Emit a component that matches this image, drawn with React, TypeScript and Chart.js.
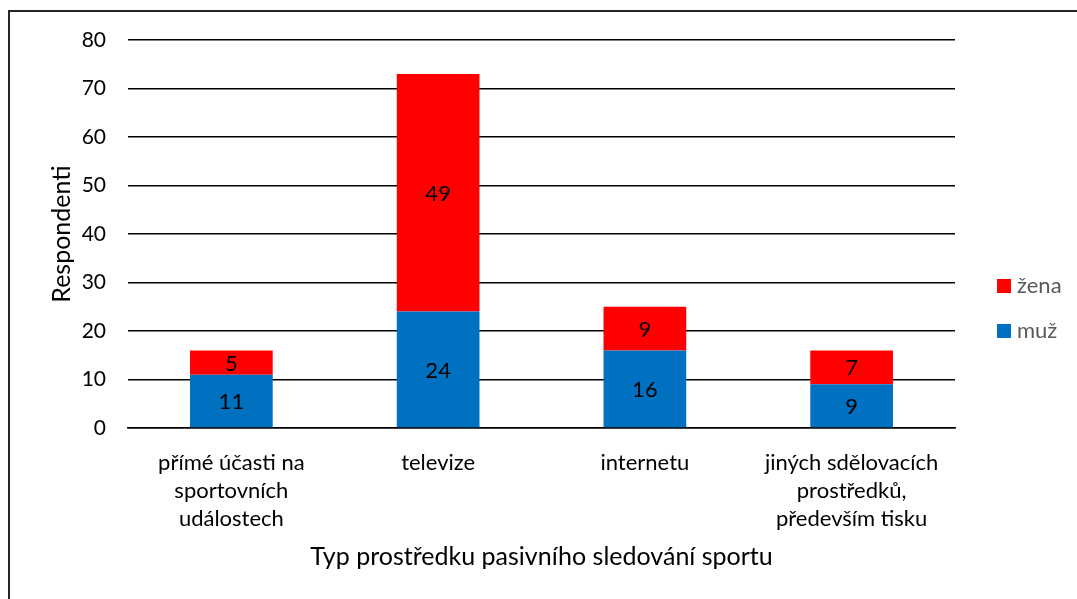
import React, { useEffect, useRef } from "react";
import { Chart, registerables } from "chart.js";

Chart.register(...registerables);

const categories: (string | string[])[] = [
  ["přímé účasti na", "sportovních", "událostech"],
  "televize",
  "internetu",
  ["jiných sdělovacích", "prostředků,", "především tisku"],
];
const muzValues = [11, 24, 16, 9];
const zenaValues = [5, 49, 9, 7];
const seriesNames = ["muž", "žena"];
const yMin = 0;
const yMax = 80;
const yStep = 10;
const xTitle = "Typ prostředku pasivního sledování sportu";
const yTitle = "Respondenti";

const BLUE = "#0070C0";
const RED = "#FF0000";
const FONT = "Lato, 'Open Sans', sans-serif";

const valueLabelPlugin = {
  id: "valueLabels",
  afterDatasetsDraw(chart: any) {
    const ctx = chart.ctx;
    ctx.save();
    ctx.font = `22px ${FONT}`;
    ctx.fillStyle = "#000";
    ctx.textAlign = "center";
    ctx.textBaseline = "middle";
    chart.data.datasets.forEach((ds: any, di: number) => {
      const meta = chart.getDatasetMeta(di);
      meta.data.forEach((el: any, i: number) => {
        const p = el.getProps(["x", "y", "base"], true);
        ctx.fillText(String(ds.data[i]), p.x, (p.y + p.base) / 2 + 1);
      });
    });
    ctx.restore();
  },
};

const legendPlugin = {
  id: "sideLegend",
  afterDraw(chart: any) {
    const ctx = chart.ctx;
    const area = chart.chartArea;
    const items = chart.data.datasets
      .map((ds: any) => ({ label: ds.label, color: ds.backgroundColor }))
      .reverse();
    ctx.save();
    ctx.font = `22px ${FONT}`;
    ctx.textAlign = "left";
    ctx.textBaseline = "middle";
    const x = area.right + 42;
    const y0 = 286;
    items.forEach((it: any, i: number) => {
      const y = y0 + i * 45;
      ctx.fillStyle = it.color;
      ctx.fillRect(x, y - 7, 14, 14);
      ctx.fillStyle = "#595959";
      ctx.fillText(it.label, x + 20, y);
    });
    ctx.restore();
  },
};

export default function App() {
  const ref = useRef<HTMLCanvasElement | null>(null);

  useEffect(() => {
    if (!ref.current) return;
    const chart = new Chart(ref.current, {
      type: "bar",
      data: {
        labels: categories,
        datasets: [
          {
            label: seriesNames[0],
            data: muzValues,
            backgroundColor: BLUE,
            barPercentage: 0.4,
            categoryPercentage: 1,
          },
          {
            label: seriesNames[1],
            data: zenaValues,
            backgroundColor: RED,
            barPercentage: 0.4,
            categoryPercentage: 1,
          },
        ],
      },
      options: {
        responsive: false,
        animation: false,
        layout: { padding: { left: 47, right: 122, top: 40, bottom: 27 } },
        plugins: {
          legend: { display: false },
          tooltip: { enabled: false },
        },
        scales: {
          x: {
            stacked: true,
            afterFit: (scale: any) => {
              scale.height = 144;
            },
            grid: { display: false, drawTicks: false },
            border: { display: true, color: "#000", width: 1.5 },
            ticks: {
              color: "#000",
              font: { family: FONT, size: 22, lineHeight: 1.27 },
              padding: 21,
              maxRotation: 0,
              autoSkip: false,
            },
            title: {
              display: true,
              text: xTitle,
              color: "#000",
              font: { family: FONT, size: 25, lineHeight: 1.2 },
              padding: { top: 0, bottom: 0 },
            },
          },
          y: {
            stacked: true,
            min: yMin,
            max: yMax,
            afterFit: (scale: any) => {
              scale.width = 81;
            },
            grid: { color: "#000", lineWidth: 1.5, drawTicks: false },
            border: { display: false },
            ticks: {
              stepSize: yStep,
              color: "#000",
              font: { family: FONT, size: 21 },
              padding: 22,
            },
            title: {
              display: true,
              text: yTitle,
              color: "#000",
              font: { family: FONT, size: 25, lineHeight: 1.2 },
              padding: { top: 0, bottom: 0 },
            },
          },
        },
      },
      plugins: [valueLabelPlugin, legendPlugin],
    });
    return () => chart.destroy();
  }, []);

  return (
    <div style={{ position: "fixed", left: 0, top: 0, width: 1077, height: 599, background: "#fff", overflow: "hidden" }}>
      <div
        style={{
          position: "absolute",
          left: 8,
          top: 10,
          width: 1200,
          height: 700,
          borderLeft: "2px solid #262626",
          borderTop: "2px solid #262626",
        }}
      />
      <canvas ref={ref} width={1077} height={599} style={{ position: "absolute", left: 0, top: 0 }} />
    </div>
  );
}
